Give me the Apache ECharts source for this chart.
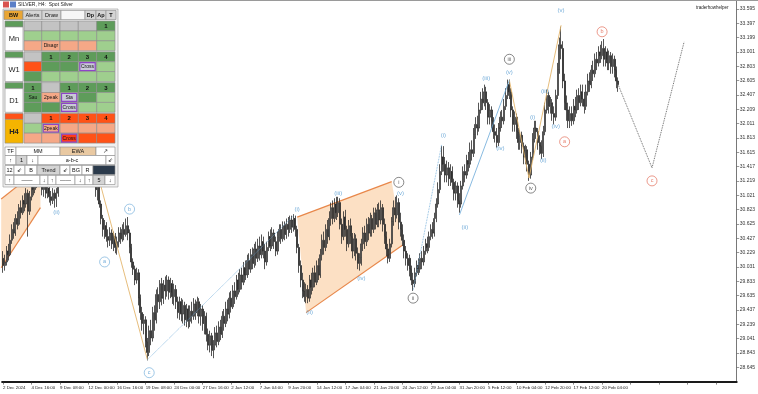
<!DOCTYPE html>
<html><head><meta charset="utf-8">
<script src="https://cdn.jsdelivr.net/npm/echarts@6/dist/echarts.min.js"></script>
<style>html,body{margin:0;padding:0;background:#fff}#c{width:758px;height:394px}</style>
</head><body><div id="c"></div>
<script>
// ---- data ----
const tickLabels = ["2 Dec 2024","4 Dec 16:00","9 Dec 08:00","12 Dec 00:00","16 Dec 16:00","19 Dec 08:00","24 Dec 00:00","27 Dec 16:00","2 Jan 12:00","7 Jan 04:00","9 Jan 20:00","14 Jan 12:00","17 Jan 04:00","21 Jan 20:00","24 Jan 12:00","29 Jan 04:00","31 Jan 20:00","5 Feb 12:00","10 Feb 04:00","12 Feb 20:00","17 Feb 12:00","20 Feb 04:00"];
const barsPerTick = 16;
const totalSlots = 412;
// [open, close, low, high]
const candles = [
[30.15,30.05,29.95,30.25],[30.05,30.10,29.98,30.20],[30.10,30.25,30.05,30.32],[30.25,30.20,30.12,30.35],[30.20,30.40,30.18,30.48],[30.40,30.55,30.35,30.62],
[30.55,30.50,30.42,30.65],[30.50,30.70,30.46,30.76],[30.70,30.62,30.55,30.80],[30.62,30.85,30.60,30.90],[30.85,30.78,30.70,30.95],[30.78,30.95,30.75,31.02],
[30.95,30.90,30.80,31.05],[30.90,31.05,30.85,31.12],[31.05,30.80,30.45,31.10],[30.80,31.00,30.75,31.08],[31.00,31.15,30.95,31.22],[31.15,31.10,31.02,31.25],
[31.10,31.25,31.05,31.32],[31.25,31.20,31.12,31.35],[31.20,31.30,31.15,31.38],[31.30,31.22,31.15,31.40],[31.22,31.10,31.02,31.28],[31.10,31.15,31.00,31.25],
[31.15,31.05,30.98,31.22],[31.05,31.12,30.98,31.20],[31.12,31.00,30.92,31.18],[31.00,30.95,30.88,31.08],[30.95,31.05,30.90,31.12],[31.05,30.98,30.85,31.10],
[30.98,31.05,30.86,31.12],[31.05,31.30,31.00,31.38],[31.30,31.45,31.25,31.55],[31.45,31.60,31.40,31.70],[31.60,31.55,31.45,31.68],[31.55,31.80,31.50,31.88],
[31.80,31.95,31.72,32.05],[31.95,31.85,31.78,32.02],[31.85,32.05,31.80,32.12],[32.05,32.00,31.92,32.15],[32.00,32.15,31.95,32.22],[32.15,32.10,32.00,32.25],
[32.10,32.25,32.05,32.32],[32.25,32.20,32.12,32.35],[32.20,32.30,32.15,32.40],[32.30,32.18,32.10,32.35],[32.18,32.05,31.98,32.25],[32.05,31.90,31.82,32.10],
[31.90,31.70,31.62,31.95],[31.70,31.55,31.45,31.75],[31.55,31.40,31.32,31.60],[31.40,31.30,31.20,31.45],[31.30,31.10,31.00,31.35],[31.10,31.15,30.95,31.25],
[31.15,30.90,30.85,31.20],[30.90,30.70,30.62,30.95],[30.70,30.55,30.45,30.75],[30.55,30.60,30.42,30.68],[30.60,30.45,30.38,30.65],[30.45,30.40,30.30,30.55],
[30.40,30.50,30.32,30.58],[30.50,30.35,30.28,30.55],[30.35,30.45,30.25,30.52],[30.45,30.30,30.22,30.50],[30.30,30.38,30.20,30.45],[30.38,30.50,30.30,30.58],
[30.50,30.42,30.35,30.58],[30.42,30.55,30.38,30.62],[30.55,30.48,30.40,30.65],[30.48,30.60,30.45,30.70],[30.60,30.50,30.40,30.72],[30.50,30.30,30.22,30.55],
[30.30,30.10,30.02,30.35],[30.10,30.00,29.92,30.15],[30.00,29.85,29.78,30.05],[29.85,29.95,29.80,30.02],[29.95,29.60,29.50,30.00],[29.60,29.40,29.30,29.65],
[29.40,29.25,29.15,29.48],[29.25,29.30,29.10,29.38],[29.30,29.00,28.92,29.35],[29.00,28.85,28.74,29.05],[28.85,29.15,28.80,29.22],[29.15,29.05,28.95,29.30],
[29.05,29.40,29.00,29.48],[29.40,29.30,29.15,29.50],[29.30,29.65,29.25,29.72],[29.65,29.55,29.40,29.75],[29.55,29.80,29.45,29.85],[29.80,29.60,29.50,29.88],
[29.60,29.78,29.52,29.85],[29.78,29.70,29.58,29.90],[29.70,29.85,29.62,29.92],[29.85,29.68,29.58,29.90],[29.68,29.80,29.60,29.88],[29.80,29.62,29.52,29.85],
[29.62,29.72,29.50,29.80],[29.72,29.55,29.45,29.78],[29.55,29.40,29.32,29.62],[29.40,29.55,29.30,29.62],[29.55,29.38,29.28,29.60],[29.38,29.50,29.25,29.58],
[29.50,29.30,29.22,29.55],[29.30,29.45,29.20,29.52],[29.45,29.28,29.18,29.50],[29.28,29.42,29.20,29.50],[29.42,29.35,29.25,29.55],[29.35,29.52,29.30,29.60],
[29.52,29.40,29.30,29.58],[29.40,29.55,29.35,29.62],[29.55,29.35,29.25,29.60],[29.35,29.45,29.22,29.52],[29.45,29.25,29.15,29.50],[29.25,29.35,29.10,29.42],
[29.35,29.10,29.00,29.40],[29.10,28.95,28.88,29.18],[28.95,29.08,28.85,29.15],[29.08,28.88,28.80,29.12],[28.88,28.95,28.77,29.02],[28.95,29.12,28.88,29.20],
[29.12,29.00,28.92,29.22],[29.00,29.20,28.95,29.28],[29.20,29.10,29.02,29.30],[29.10,29.35,29.05,29.42],[29.35,29.25,29.15,29.45],[29.25,29.45,29.20,29.55],
[29.45,29.38,29.28,29.58],[29.38,29.60,29.32,29.68],[29.60,29.48,29.40,29.70],[29.48,29.70,29.45,29.78],[29.70,29.62,29.52,29.82],[29.62,29.85,29.58,29.92],
[29.85,29.72,29.65,29.95],[29.72,29.92,29.68,30.00],[29.92,29.82,29.72,30.02],[29.82,30.02,29.78,30.10],[30.02,29.92,29.85,30.12],[29.92,30.12,29.88,30.20],
[30.12,30.00,29.92,30.22],[30.00,30.20,29.95,30.28],[30.20,30.08,30.00,30.30],[30.08,30.28,30.02,30.35],[30.28,30.15,30.05,30.38],[30.15,30.32,30.10,30.42],
[30.32,30.20,30.12,30.45],[30.20,30.38,30.15,30.48],[30.38,30.25,30.15,30.45],[30.25,30.10,30.00,30.35],[30.10,30.30,30.05,30.38],[30.30,30.45,30.25,30.52],
[30.45,30.32,30.25,30.55],[30.32,30.50,30.28,30.58],[30.50,30.38,30.28,30.55],[30.38,30.25,30.18,30.45],[30.25,30.45,30.20,30.52],[30.45,30.55,30.38,30.62],
[30.55,30.42,30.35,30.62],[30.42,30.60,30.38,30.66],[30.60,30.48,30.40,30.66],[30.48,30.62,30.42,30.70],[30.62,30.55,30.45,30.72],[30.55,30.68,30.50,30.74],
[30.68,30.58,30.50,30.74],[30.58,30.70,30.52,30.76],[30.70,30.55,30.45,30.74],[30.55,30.30,30.22,30.60],[30.30,30.05,29.95,30.35],[30.05,29.85,29.75,30.12],
[29.85,29.70,29.60,29.95],[29.70,29.62,29.55,29.82],[29.62,29.72,29.53,29.80],[29.72,29.60,29.53,29.78],[29.60,29.85,29.55,29.92],[29.85,29.75,29.65,29.95],
[29.75,29.95,29.70,30.02],[29.95,29.82,29.75,30.05],[29.82,30.05,29.78,30.12],[30.05,29.92,29.85,30.15],[29.92,30.20,29.88,30.28],[30.20,30.40,30.12,30.48],
[30.40,30.30,30.20,30.52],[30.30,30.55,30.25,30.62],[30.55,30.45,30.35,30.68],[30.45,30.70,30.40,30.80],[30.70,30.85,30.60,30.92],[30.85,30.70,30.62,30.95],
[30.70,30.90,30.65,30.98],[30.90,30.78,30.68,31.00],[30.78,30.92,30.72,31.00],[30.92,30.62,30.55,30.98],[30.62,30.45,30.35,30.70],[30.45,30.72,30.40,30.80],
[30.72,30.55,30.45,30.82],[30.55,30.35,30.25,30.60],[30.35,30.60,30.30,30.68],[30.60,30.45,30.35,30.70],[30.45,30.25,30.15,30.50],[30.25,30.42,30.18,30.50],
[30.42,30.22,30.12,30.48],[30.22,30.08,30.00,30.30],[30.08,30.15,29.98,30.22],[30.15,30.35,30.05,30.42],[30.35,30.50,30.25,30.58],[30.50,30.38,30.28,30.60],
[30.38,30.62,30.32,30.70],[30.62,30.50,30.40,30.72],[30.50,30.70,30.45,30.78],[30.70,30.55,30.45,30.75],[30.55,30.78,30.50,30.85],[30.78,30.62,30.55,30.85],
[30.62,30.82,30.58,30.90],[30.82,30.68,30.58,30.92],[30.68,30.85,30.62,30.95],[30.85,30.62,30.52,30.90],[30.62,30.45,30.35,30.70],[30.45,30.28,30.18,30.52],
[30.28,30.15,30.08,30.35],[30.15,30.35,30.10,30.42],[30.35,30.65,30.30,30.72],[30.65,30.85,30.60,30.95],[30.85,30.75,30.65,31.00],[30.75,30.92,30.70,31.02],
[30.92,30.65,30.55,30.98],[30.65,30.55,30.45,30.78],[30.55,30.40,30.32,30.62],[30.40,30.25,30.15,30.48],[30.25,30.15,30.05,30.32],[30.15,30.05,29.98,30.22],
[30.15,30.00,29.90,30.20],[30.00,29.85,29.78,30.05],[29.85,29.80,29.70,29.95],[29.80,29.95,29.75,30.02],[29.95,30.05,29.90,30.12],[30.05,30.00,29.92,30.15],
[30.00,30.15,29.95,30.22],[30.15,30.10,30.00,30.25],[30.10,30.25,30.05,30.32],[30.25,30.35,30.20,30.42],[30.35,30.30,30.22,30.45],[30.30,30.45,30.25,30.52],
[30.45,30.55,30.40,30.62],[30.55,30.50,30.42,30.65],[30.50,30.70,30.45,30.78],[30.70,30.90,30.65,30.98],[30.90,31.10,30.85,31.20],[31.10,31.35,31.05,31.45],
[31.35,31.55,31.30,31.70],[31.55,31.45,31.35,31.70],[31.45,31.30,31.20,31.55],[31.30,31.40,31.20,31.50],[31.40,31.25,31.15,31.48],[31.25,31.35,31.15,31.45],
[31.35,31.20,31.10,31.42],[31.20,31.05,30.95,31.25],[31.05,31.15,30.95,31.22],[31.15,30.95,30.85,31.20],[30.95,30.90,30.78,31.05],[30.90,31.15,30.85,31.22],
[31.15,31.35,31.10,31.42],[31.35,31.30,31.20,31.45],[31.30,31.50,31.25,31.58],[31.50,31.45,31.35,31.62],[31.45,31.65,31.40,31.75],[31.65,31.60,31.50,31.78],
[31.60,31.85,31.55,31.95],[31.85,32.00,31.80,32.10],[32.00,31.95,31.85,32.12],[31.95,32.20,31.90,32.30],[32.20,32.35,32.15,32.45],[32.35,32.30,32.20,32.50],
[32.30,32.45,32.25,32.55],[32.45,32.30,32.20,32.52],[32.30,32.10,32.00,32.35],[32.10,32.20,32.00,32.28],[32.20,32.05,31.95,32.25],[32.05,31.90,31.80,32.10],
[31.90,31.85,31.75,32.00],[31.85,31.75,31.68,31.95],[31.75,31.95,31.70,32.02],[31.95,32.10,31.90,32.18],[32.10,32.05,31.95,32.20],[32.05,32.25,32.00,32.35],
[32.25,32.40,32.20,32.50],[32.40,32.55,32.35,32.62],[32.55,32.45,32.35,32.62],[32.45,32.20,32.10,32.50],[32.20,32.00,31.90,32.25],[32.00,32.10,31.90,32.18],
[32.10,31.90,31.80,32.15],[31.90,31.75,31.65,31.95],[31.75,31.85,31.65,31.92],[31.85,31.70,31.60,31.90],[31.70,31.55,31.45,31.75],[31.55,31.65,31.45,31.72],
[31.65,31.45,31.35,31.70],[31.45,31.30,31.22,31.50],[31.30,31.55,31.25,31.62],[31.55,31.80,31.50,31.88],[31.80,31.95,31.75,32.05],[31.95,31.90,31.80,32.05],
[31.90,31.75,31.65,31.95],[31.75,31.70,31.58,31.85],[31.70,31.60,31.52,31.78],[31.60,31.90,31.55,31.98],[31.90,32.20,31.85,32.30],[32.20,32.40,32.15,32.48],
[32.40,32.25,32.15,32.45],[32.25,32.30,32.15,32.38],[32.30,32.15,32.05,32.35],[32.15,32.10,32.00,32.25],[32.10,32.40,32.05,32.48],[32.40,32.75,32.35,32.85],
[32.75,33.10,32.70,33.20],[33.10,33.05,32.90,33.35],[33.05,32.60,32.50,33.15],[32.60,32.30,32.20,32.70],[32.30,32.20,32.05,32.40],[32.20,32.05,31.95,32.30],
[32.05,32.15,31.95,32.25],[32.15,32.05,31.98,32.25],[32.05,32.25,32.00,32.35],[32.25,32.20,32.10,32.38],[32.20,32.40,32.15,32.48],[32.40,32.30,32.20,32.50],
[32.30,32.45,32.25,32.55],[32.45,32.35,32.25,32.55],[32.35,32.25,32.15,32.45],[32.25,32.45,32.20,32.55],[32.45,32.60,32.40,32.70],[32.60,32.55,32.45,32.72],
[32.55,32.75,32.50,32.82],[32.75,32.70,32.60,32.88],[32.70,32.90,32.65,32.98],[32.90,32.85,32.75,33.00],[32.85,33.00,32.80,33.08],[33.00,32.95,32.85,33.10],
[32.95,33.05,32.90,33.15],[33.05,32.90,32.80,33.18],[32.90,33.00,32.80,33.08],[33.00,32.85,32.75,33.05],[32.85,32.95,32.75,33.02],[32.95,32.80,32.70,33.00],
[32.80,32.90,32.70,32.98],[32.90,32.75,32.65,32.95],[32.75,32.60,32.50,32.80],[32.60,32.55,32.45,32.65]
];
// wave labels [barIndex, price, text]
const blueLabels = [[30,30.78,"(ii)"],[164.5,30.83,"(i)"],[172.3,29.41,"(ii)"],[188,31.05,"(iii)"],[200.8,29.88,"(iv)"],[222.7,31.05,"(v)"],
  [246.7,31.85,"(i)"],[258.5,30.58,"(ii)"],[270.8,32.64,"(iii)"],[278.6,31.67,"(iv)"],[284.2,32.72,"(v)"],
  [296.5,32.10,"(i)"],[303.2,31.51,"(ii)"],[304.3,32.46,"(iii)"],[309.7,31.98,"(iv)"],[313.3,33.58,"(v)"]];
const blueCircled = [[56.5,30.10,"a"],[70.5,30.83,"b"],[82.2,28.57,"c"]];
const blackCircled = [[222,31.20,"i"],[230,29.60,"ii"],[284.2,32.90,"iii"],[296,31.12,"iv"]];
const redCircled = [[315,31.76,"a"],[336.2,33.28,"b"],[363.6,31.22,"c"]];
// wave lines [barIndex, price]
const tanLines = [[[54,31.23],[81,28.75]],[[284,32.61],[295,31.26],[313,33.37]]];
const blueDotted = [[[81,28.75],[163,30.74]],[[230,29.71],[246,31.72]]];
const blueSolid = [[[256,30.75],[284,32.61]]];
const projection = [[345,32.55],[363.5,31.40],[382,33.14]];
const channelLeft = {upper:[[-1,30.97],[21,31.40]], lower:[[-1,30.02],[21,30.85]]};
const channelMid = {upper:[[165,30.72],[218,31.21]], lower:[[169.5,29.40],[224.3,30.33]]};

// ---- chart ----
const chart = echarts.init(document.getElementById('c'), null, {renderer:'canvas'});
const cats = Array.from({length: totalSlots}, (_, i) => i);
const FONT = '"Liberation Sans", Arial, sans-serif';

function lineSeries(pts, color, type, width){
  return {type:'line', data:pts, showSymbol:false, silent:true, z:3, animation:false,
    lineStyle:{color, type, width}, clip:false};
}
function labelSeries(items, color, circled, border){
  return {type:'scatter', silent:true, z:6, animation:false,
    data: items.map(d => ({value:[d[0], d[1]], name:d[2]})),
    symbol: 'circle', symbolSize: circled ? 10 : 0.1,
    itemStyle: circled ? {color:'#fff', borderColor:border, borderWidth:0.8} : {color:'rgba(0,0,0,0)'},
    label:{show:true, position:'inside', formatter:p=>p.name, color, fontSize: circled?5.5:6, fontFamily:FONT}};
}
function channelSeries(ch){
  const poly = [ch.upper[0], ch.upper[1], ch.lower[1], ch.lower[0]];
  return {type:'custom', silent:true, z:1, animation:false, clip:false, data:[[0,30]],
    renderItem:(params, api)=>{
      const seg = s => {const a=api.coord(s[0]), b=api.coord(s[1]); return {x1:a[0],y1:a[1],x2:b[0],y2:b[1]};};
      return {type:'group', children:[
        {type:'polygon', shape:{points: poly.map(p=>api.coord(p))}, style:{fill:'rgba(251,214,176,0.75)'}},
        {type:'line', shape:seg(ch.upper), style:{stroke:'#e8874a', lineWidth:1.2}},
        {type:'line', shape:seg(ch.lower), style:{stroke:'#e8874a', lineWidth:1.2}}
      ]};
    }};
}

const series = [
  channelSeries(channelLeft), channelSeries(channelMid),
  {type:'candlestick', data:candles, barWidth:1.5, z:2, silent:true, animation:false,
   itemStyle:{color:'#ffffff', color0:'#2a2a2a', borderColor:'#2a2a2a', borderColor0:'#2a2a2a', borderWidth:0.8}},
  ...tanLines.map(l=>lineSeries(l,'#e3b56d','solid',0.9)),
  ...blueDotted.map(l=>lineSeries(l,'#6aa8d8','dotted',0.8)),
  ...blueSolid.map(l=>lineSeries(l,'#6aa8d8','solid',0.8)),
  lineSeries(projection,'#555','dotted',0.9),
  labelSeries(blueLabels,'#4f97cf',false),
  labelSeries(blueCircled,'#4f97cf',true,'#6aa8d8'),
  labelSeries(blackCircled,'#333',true,'#444'),
  labelSeries(redCircled,'#e0604a',true,'#e0604a')
];

// ---- panel (graphic) ----
const G = [];
function cell(x,y,w,h,fill,txt,o){
  o = o||{};
  G.push({type:'rect', z:100, shape:{x,y,width:w,height:h},
    style:{fill, stroke:o.stroke||'#8c8c8c', lineWidth:o.lw||0.6}});
  if(txt) G.push({type:'text', z:101, style:{text:txt, x:x+w/2, y:y+h/2+0.3, align:'center', verticalAlign:'middle',
    fill:o.color||'#111', fontSize:o.fs||5.5, fontWeight:o.bold?'bold':'normal', fontFamily:FONT}});
}
const C = {dk:'#5e9c5a', lt:'#9fcf8e', gr:'#c3c3c3', sa:'#f5a887', or:'#ff5217', rd:'#ff3c1a', pb:'#c9c9d8', yl:'#f5b400', wh:'#ffffff'};
G.push({type:'rect', z:99, shape:{x:3,y:9,width:115,height:178}, style:{fill:'#f0f0f0', stroke:'#999', lineWidth:0.6}});
cell(4,10.5,19,9,'#e8a535','BW',{bold:true});
cell(23,10.5,19,9,'#d4d4d4','Alerts');
cell(42,10.5,19,9,'#d4d4d4','Draw');
cell(61,10.5,24,9,'#f6f6f6','');
cell(85,10.5,11,9,'#d4d4d4','Dp',{bold:true});
cell(96,10.5,10,9,'#d4d4d4','Ap',{bold:true});
cell(106,10.5,10,9,'#d4d4d4','T',{bold:true});
const colX = [24,41.7,60,78.3,96.7,115];
const blocks = [
  {y:21, label:'Mn', strip:C.dk, box:C.wh, rows:[[['gr'],['gr'],['gr'],['gr'],['dk','1']],[['lt'],['lt'],['lt'],['lt'],['lt']],[['sa'],['sa','Disagr'],['sa'],['sa'],['lt']]]},
  {y:51.8, label:'W1', strip:C.dk, box:C.wh, rows:[[['gr'],['dk','1'],['dk','2'],['dk','3'],['dk','4']],[['or'],['dk'],['dk'],['pb','Cross',1],['lt']],[['dk'],['lt'],['lt'],['lt'],['lt']]]},
  {y:82.6, label:'D1', strip:C.dk, box:C.wh, rows:[[['dk','1'],['gr'],['dk','1'],['dk','2'],['dk','3']],[['dk','Sau'],['sa','2peak'],['pb','Sta',1],['dk'],['lt']],[['dk'],['dk'],['pb','Cross',1],['lt'],['lt']]]},
  {y:113.4, label:'H4', strip:C.or, box:C.yl, rows:[[['gr'],['or','1'],['or','2'],['or','3'],['or','4']],[['lt'],['sa','2peak',1],['sa'],['sa'],['sa']],[['sa'],['sa'],['rd','Cross',1],['or'],['or']]]}
];
blocks.forEach(b=>{
  const rh=9.9;
  cell(5,b.y,18,6,b.strip,'');
  cell(5,b.y+6,18,rh*3-6,b.box,b.label,{fs:7.5,bold:b.label==='H4',color:'#222'});
  b.rows.forEach((r,ri)=>{
    r.forEach((c,ci)=>{
      const x=colX[ci], w=colX[ci+1]-colX[ci], y=b.y+ri*rh;
      const isHead = ri===0 && c[1];
      if(c[2]){ cell(x,y,w,rh,C.lt,'');
        cell(x+1.5,y+1,w-3,rh-2,C[c[0]],c[1],{stroke:'#8e44c8',lw:1.2,fs:5}); }
      else cell(x,y,w,rh,C[c[0]],c[1]||'',{bold:isHead,fs:isHead?6:5});
    });
  });
});
const ctrl = [
  [147,8.5,[[5,11,'#fff','TF'],[16,44,'#fff','MM'],[60,36,'#e9c9a2','EWA'],[96,19,'#fff','↗']]],
  [155.5,9,[[5,11,'#fff','↑'],[16,11,'#d4d4d4','1'],[27,11,'#fff','↓'],[38,68,'#fff','a-b-c'],[106,9,'#fff','⇙']]],
  [165.5,9,[[5,9,'#fff','12'],[14,11,'#fff','⇙'],[25,12,'#fff','B'],[37,23,'#d4d4d4','Trend'],[60,10,'#fff','⇙'],[70,12,'#fff','BG'],[82,11,'#fff','R'],[93,22,'#2b3a4b','']]],
  [175.5,9,[[5,9,'#fff','↑'],[14,26,'#fff','——'],[40,8,'#fff','↓'],[48,8,'#fff','↑'],[56,19,'#fff','——'],[75,10,'#fff','↓'],[85,8,'#fff','↑'],[93,12,'#d4d4d4','5'],[105,10,'#fff','↓']]]
];
ctrl.forEach(r=>r[2].forEach(c=>cell(c[0],r[0],c[1],r[1],c[2],c[3],{fs:5.5})));
G.push({type:'rect', z:98, shape:{x:3,y:1.5,width:6,height:6}, style:{fill:'#d9534f'}});
G.push({type:'rect', z:98, shape:{x:10,y:1.5,width:6,height:6}, style:{fill:'#5b7fc7'}});
G.push({type:'text', z:98, style:{text:'SILVER, H4:  Spot Silver', x:18, y:4.8, verticalAlign:'middle', fontSize:5, fill:'#222', fontFamily:FONT}});
G.push({type:'text', z:98, style:{text:'traderhowhelper', x:696, y:7.5, verticalAlign:'middle', fontSize:4.5, fill:'#222', fontFamily:FONT}});
G.push({type:'line', z:97, shape:{x1:0,y1:0.5,x2:758,y2:0.5}, style:{stroke:'#9a9a9a', lineWidth:1}});

chart.setOption({
  animation:false,
  backgroundColor:'#ffffff',
  grid:{left:1.1, right:20.45, top:0, bottom:12.4, containLabel:false},
  xAxis:{type:'category', data:cats, boundaryGap:true,
    axisLine:{show:true, lineStyle:{color:'#1a1a1a', width:2}},
    axisTick:{show:true, interval:i=>i%barsPerTick===0, length:3, alignWithLabel:true, lineStyle:{color:'#333', width:0.6}},
    axisLabel:{show:true, interval:i=>i%barsPerTick===0, align:'left', fontSize:4.4, color:'#222', margin:4, fontFamily:FONT,
      formatter:(v,i)=> (i%barsPerTick===0 && tickLabels[i/barsPerTick]) ? tickLabels[i/barsPerTick] : ''},
    splitLine:{show:false}},
  yAxis:{type:'value', position:'right', min:28.447, max:33.719, interval:0.198,
    axisLine:{show:true, lineStyle:{color:'#555', width:0.8}},
    axisTick:{show:true, length:2.5, lineStyle:{color:'#555', width:0.6}},
    axisLabel:{fontSize:5, color:'#333', margin:3, fontFamily:FONT, showMinLabel:false, showMaxLabel:false,
      formatter:v=>v.toFixed(3)},
    splitLine:{show:false}},
  series,
  graphic:G
});
</script></body></html>
